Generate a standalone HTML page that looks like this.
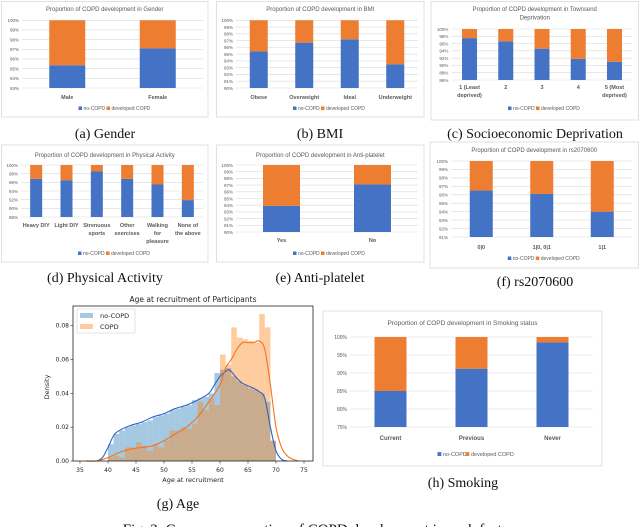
<!DOCTYPE html>
<html><head><meta charset="utf-8"><style>
html,body{margin:0;padding:0;background:#fff;width:640px;height:527px;overflow:hidden}
svg{display:block}
.ex{font-family:"Liberation Sans",sans-serif;fill:#595959}
.cap{font-family:"Liberation Serif",serif;fill:#111;font-size:14px}
.mp{font-family:"DejaVu Sans","Liberation Sans",sans-serif;fill:#222}
</style></head><body>
<svg id="fig" width="640" height="527" viewBox="0 0 640 527" xmlns="http://www.w3.org/2000/svg">
<text class="cap" x="105" y="138" text-anchor="middle">(a) Gender</text>
<text class="cap" x="320" y="138" text-anchor="middle">(b) BMI</text>
<text class="cap" x="535" y="138" text-anchor="middle">(c) Socioeconomic Deprivation</text>
<text class="cap" x="105" y="282" text-anchor="middle">(d) Physical Activity</text>
<text class="cap" x="320" y="282" text-anchor="middle">(e) Anti-platelet</text>
<text class="cap" x="535" y="286" text-anchor="middle">(f) rs2070600</text>
<text class="cap" x="178" y="508" text-anchor="middle">(g) Age</text>
<text class="cap" x="463" y="487" text-anchor="middle">(h) Smoking</text>
<text class="cap" x="320" y="534" text-anchor="middle" style="font-size:15px">Fig. 2: Compare proportion of COPD development in each factor.</text>
</svg>
<script>
const NS="http://www.w3.org/2000/svg";
const svg=document.getElementById('fig');
function el(tag,attrs,parent,txt){const e=document.createElementNS(NS,tag);for(const k in attrs)e.setAttribute(k,attrs[k]);if(txt!==undefined)e.textContent=txt;(parent||svg).appendChild(e);return e;}

// ---- data ----
const genderCats=["Male","Female"];
const genderVals=[95.35,97.1];
const genderTicks=[93,94,95,96,97,98,99,100];
const bmiCats=["Obese","Overweight","Ideal","Underweight"];
const bmiVals=[95.4,96.7,97.2,93.5];
const bmiTicks=[90,91,92,93,94,95,96,97,98,99,100];
const depCats=["1 (Least\ndeprived)","2","3","4","5 (Most\ndeprived)"];
const depVals=[97.5,96.6,94.6,91.8,91.0];
const depTicks=[86,88,90,92,94,96,98,100];
const actCats=["Heavy DIY","Light DIY","Strenuous\nsports","Other\nexercises","Walking\nfor\npleasure","None of\nthe above"];
const actVals=[96.8,96.5,98.5,96.8,95.5,91.9];
const actTicks=[88,90,92,94,96,98,100];
const antiCats=["Yes","No"];
const antiVals=[93.9,97.1];
const antiTicks=[90,91,92,93,94,95,96,97,98,99,100];
const rsCats=["0|0","1|0, 0|1","1|1"];
const rsVals=[96.5,96.1,94.0];
const rsTicks=[91,92,93,94,95,96,97,98,99,100];
const smkCats=["Current","Previous","Never"];
const smkVals=[85,91.2,98.5];
const smkTicks=[75,80,85,90,95,100];

function barChart(name,title,cats,vals,ticks,g){
  const grp=el('g',{});
  
  
  const box=el('rect',{x:g.bx0,y:g.by0,width:g.bx1-g.bx0,height:g.by1-g.by0,fill:'#fff',stroke:'#d9d9d9','stroke-width':0.8},grp);
  
  
  const mn=ticks[0],mx=ticks[ticks.length-1];
  const yS=v=>g.y1-(v-mn)/(mx-mn)*(g.y1-g.y0);
  const n=cats.length,step=(g.x1-g.x0)/n;
  const xC=i=>g.x0+(i+0.5)*step;
  const fs=g.fs||5;
  title.split('\n').forEach((t,k)=>{const tt=el('text',{class:'ex',x:(g.bx0+g.bx1)/2,y:g.ty+k*(fs+3.5),'text-anchor':'middle','font-size':fs+1},grp,t);
    
    });
  ticks.forEach(t=>{
    const ln=el('line',{x1:g.x0,x2:g.x1,y1:yS(t),y2:yS(t),stroke:'#d9d9d9','stroke-width':0.6},grp);
    
    
    const lb=el('text',{class:'ex',x:g.x0-3,y:yS(t)+fs*0.35,'text-anchor':'end','font-size':fs-0.5},grp,t+'%');
    
    
  });
  vals.forEach((v,i)=>{
    const x=xC(i)-g.bw/2;
    const b=el('rect',{x:x,y:yS(v),width:g.bw,height:yS(mn)-yS(v),fill:'#4472C4'},grp);
    
    
    const o=el('rect',{x:x,y:yS(mx),width:g.bw,height:yS(v)-yS(mx),fill:'#ED7D31'},grp);
    
    
    cats[i].split('\n').forEach((t,k)=>{
      const c=el('text',{class:'ex',x:xC(i),y:g.ly+k*(fs+3),'text-anchor':'middle','font-size':fs+0.5,'font-weight':'bold'},grp,t);
      
      
    });
  });
  const cx=(g.x0+g.x1)/2;
  const l1=el('rect',{x:cx-34,y:g.lg-fs*0.7,width:fs*0.7,height:fs*0.7,fill:'#4472C4'},grp);
  
  
  el('text',{class:'ex',x:cx-34+fs,y:g.lg,'font-size':fs},grp,'no-COPD');
  const l2=el('rect',{x:cx-6,y:g.lg-fs*0.7,width:fs*0.7,height:fs*0.7,fill:'#ED7D31'},grp);
  
  
  el('text',{class:'ex',x:cx-6+fs,y:g.lg,'font-size':fs},grp,'developed COPD');
}
barChart('gender','Proportion of COPD development in Gender',genderCats,genderVals,genderTicks,{bx0:1.5,by0:1.5,bx1:208,by1:117,ty:11,x0:22,x1:203,y0:20.3,y1:88,bw:36,ly:99,lg:110});
barChart('bmi','Proportion of COPD development in BMI',bmiCats,bmiVals,bmiTicks,{bx0:216.5,by0:1.5,bx1:424,by1:117,ty:11,x0:236,x1:418,y0:20.3,y1:88,bw:18,ly:99,lg:110});
barChart('deprivation','Proportion of COPD development in Townsend\nDeprivation',depCats,depVals,depTicks,{bx0:431,by0:1.5,bx1:638.5,by1:120,ty:11,x0:451.4,x1:632.6,y0:29,y1:80,bw:15,ly:89,lg:110});
barChart('activity','Proportion of COPD development in Physical Activity',actCats,actVals,actTicks,{bx0:1.5,by0:145,bx1:208,by1:262,ty:157,x0:21,x1:203,y0:165,y1:217,bw:12,ly:227,lg:255});
barChart('antiplatelet','Proportion of COPD development in Anti-platelet',antiCats,antiVals,antiTicks,{bx0:216.5,by0:145,bx1:424,by1:262,ty:157,x0:236,x1:418,y0:165,y1:232,bw:37,ly:242,lg:255});
barChart('rs2070600','Proportion of COPD development in rs2070600',rsCats,rsVals,rsTicks,{bx0:430,by0:142,bx1:638.5,by1:268,ty:152,x0:451,x1:632.5,y0:161,y1:237,bw:23,ly:249,lg:260});
barChart('smoking','Proportion of COPD development in Smoking status',smkCats,smkVals,smkTicks,{bx0:323,by0:311,bx1:602,by1:466,ty:325,x0:350,x1:593,y0:337,y1:427,bw:32,ly:440,lg:456,fs:5.5});

// ---- Age density chart ----
const ageBins=[40,41,42,43,44,45,46,47,48,49,50,51,52,53,54,55,56,57,58,59,60,61,62,63,64,65,66,67,68,69];
const noCopdHist=[0.010,0.016,0.018,0.020,0.021,0.022,0.023,0.024,0.026,0.027,0.028,0.030,0.031,0.032,0.033,0.036,0.037,0.038,0.040,0.052,0.054,0.055,0.050,0.047,0.045,0.043,0.042,0.040,0.035,0.012];
const copdHist=[0.002,0.003,0.002,0.008,0.008,0.011,0.009,0.006,0.010,0.008,0.012,0.018,0.018,0.020,0.019,0.022,0.035,0.030,0.037,0.033,0.063,0.057,0.079,0.073,0.072,0.071,0.070,0.087,0.079,0.012];
const noCopdKdeX=[38,39,40,41,42,44,46,48,50,52,54,56,58,59,60,61,61.5,62,63,64,66,67,68,69,70,71,72];
const noCopdKdeY=[0,0.002,0.008,0.015,0.018,0.021,0.023,0.026,0.028,0.031,0.033,0.036,0.040,0.045,0.050,0.053,0.054,0.053,0.049,0.046,0.043,0.041,0.037,0.020,0.006,0.001,0];
const copdKdeX=[36,38,40,42,44,46,48,50,52,54,56,58,60,61,62,63,64,65,66,67,68,69,70,71,72,73,74];
const copdKdeY=[0,0,0.002,0.005,0.007,0.008,0.009,0.012,0.016,0.020,0.026,0.035,0.045,0.055,0.060,0.066,0.070,0.070,0.070,0.071,0.066,0.045,0.020,0.008,0.003,0.001,0];
const ageXTicks=[35,40,45,50,55,60,65,70,75];
const ageYTicks=[0.00,0.02,0.04,0.06,0.08];

(function(){
  const ax0=73,ax1=313,ay0=306,ay1=461;
  const xS=v=>80+(v-35)*(304-80)/40;
  const yS=v=>ay1-v*(ay1-325.7)/0.08;
  const g=el('g',{});
  
  
  const t=el('text',{class:'mp',x:193,y:302,'text-anchor':'middle','font-size':7.5},g,'Age at recruitment of Participants');
  
  
  ageBins.forEach((b,i)=>{
    const r=el('rect',{x:xS(b),y:yS(noCopdHist[i]),width:xS(b+1)-xS(b),height:yS(0)-yS(noCopdHist[i]),fill:'#1f77b4','fill-opacity':0.4},g);
    
    
  });
  ageBins.forEach((b,i)=>{
    const r=el('rect',{x:xS(b),y:yS(copdHist[i]),width:xS(b+1)-xS(b),height:yS(0)-yS(copdHist[i]),fill:'#ff7f0e','fill-opacity':0.4},g);
    
    
  });
  function smooth(xs,ys){
    const p=xs.map((x,i)=>[xS(x),yS(ys[i])]);
    let d='M'+p[0][0]+','+p[0][1];
    for(let i=0;i<p.length-1;i++){
      const p0=p[i-1]||p[i],p1=p[i],p2=p[i+1],p3=p[i+2]||p2;
      d+=' C'+(p1[0]+(p2[0]-p0[0])/6)+','+(p1[1]+(p2[1]-p0[1])/6)+' '+(p2[0]-(p3[0]-p1[0])/6)+','+(p2[1]-(p3[1]-p1[1])/6)+' '+p2[0]+','+p2[1];
    }
    return d;
  }
  const k1=el('path',{d:smooth(noCopdKdeX,noCopdKdeY),fill:'none',stroke:'#2f63c9','stroke-width':1.1},g);
  
  
  const k2=el('path',{d:smooth(copdKdeX,copdKdeY),fill:'none',stroke:'#f37321','stroke-width':1.1},g);
  
  
  const fr=el('rect',{x:ax0,y:ay0,width:ax1-ax0,height:ay1-ay0,fill:'none',stroke:'#222','stroke-width':0.8},g);
  
  
  ageXTicks.forEach(v=>{
    el('line',{x1:xS(v),x2:xS(v),y1:ay1,y2:ay1+2.5,stroke:'#222','stroke-width':0.6},g);
    const l=el('text',{class:'mp',x:xS(v),y:472,'text-anchor':'middle','font-size':6},g,v);
    
    
  });
  ageYTicks.forEach(v=>{
    el('line',{x1:ax0-2.5,x2:ax0,y1:yS(v),y2:yS(v),stroke:'#222','stroke-width':0.6},g);
    const l=el('text',{class:'mp',x:ax0-4,y:yS(v)+2,'text-anchor':'end','font-size':6},g,v.toFixed(2));
    
    
  });
  const xl=el('text',{class:'mp',x:193,y:482,'text-anchor':'middle','font-size':6.5},g,'Age at recruitment');
  
  
  const yl=el('text',{class:'mp',x:0,y:0,'text-anchor':'middle','font-size':6.5,transform:'translate(49,387) rotate(-90)'},g,'Density');
  
  
  const lg=el('rect',{x:77,y:309,width:58,height:24,fill:'#fff','fill-opacity':0.85,stroke:'#ccc','stroke-width':0.6,rx:1.5},g);
  
  
  el('rect',{x:80,y:313,width:13,height:5,fill:'#1f77b4','fill-opacity':0.4},g);
  const e1=el('text',{class:'mp',x:100,y:318,'font-size':6.5},g,'no-COPD');
  
  
  el('rect',{x:80,y:324,width:13,height:5,fill:'#ff7f0e','fill-opacity':0.4},g);
  const e2=el('text',{class:'mp',x:100,y:329,'font-size':6.5},g,'COPD');
  
  
})();
</script>
</body></html>
